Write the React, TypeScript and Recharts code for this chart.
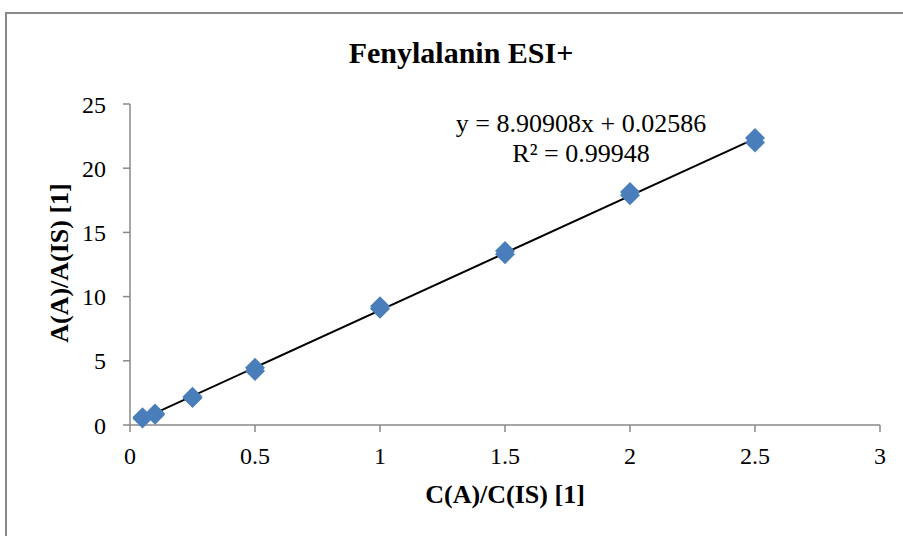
import React from 'react';
import {
  ScatterChart,
  Scatter,
  XAxis,
  YAxis,
  ReferenceLine,
} from 'recharts';

// concentration ratios (each standard measured twice)
const concentrations = [0.05, 0.05, 0.1, 0.1, 0.25, 0.25, 0.5, 0.5, 1, 1, 1.5, 1.5, 2, 2, 2.5, 2.5];
const areaRatios = [0.5, 0.6, 0.8, 0.9, 2.1, 2.2, 4.2, 4.45, 9.05, 9.25, 13.3, 13.55, 17.9, 18.15, 22.0, 22.35];

const xTicks = [0, 0.5, 1, 1.5, 2, 2.5, 3];
const yTicks = [0, 5, 10, 15, 20, 25];

// trendline as printed on the chart
const slope = 8.90908;
const intercept = 0.02586;
const rSquared = 0.99948;
const trendX = [0.05, 2.5];

const points = concentrations.map((c, i) => ({ x: c, y: areaRatios[i] }));

const FONT = '"Liberation Serif", "Times New Roman", serif';
const AXIS_GREY = '#898989';
const MARKER = '#4A7EBB';

const Diamond = (props: any) => {
  const { cx, cy } = props;
  const r = 10;
  return (
    <polygon
      points={`${cx},${cy - r} ${cx + r},${cy} ${cx},${cy + r} ${cx - r},${cy}`}
      fill={MARKER}
    />
  );
};

export default function App() {
  return (
    <div style={{ position: 'absolute', left: 0, top: 0, width: 903, height: 536, overflow: 'hidden', background: '#fff' }}>
      <div
        style={{
          position: 'absolute',
          left: 5,
          top: 12,
          width: 960,
          height: 600,
          border: `2px solid ${AXIS_GREY}`,
        }}
      />
      <div style={{ position: 'absolute', left: 0, top: 0 }}>
        <ScatterChart width={903} height={536} margin={{ top: 104, right: 23, bottom: 0, left: 0 }}>
          <XAxis
            type="number"
            dataKey="x"
            domain={[0, 3]}
            ticks={xTicks}
            height={111}
            axisLine={{ stroke: AXIS_GREY, strokeWidth: 1.5 }}
            tickLine={{ stroke: AXIS_GREY, strokeWidth: 1.5 }}
            tickSize={7}
            tickMargin={15}
            tick={{ fill: '#000', fontFamily: FONT, fontSize: 24 }}
            label={{
              value: 'C(A)/C(IS) [1]',
              position: 'insideBottom',
              offset: 33,
              style: { fill: '#000', fontFamily: FONT, fontSize: 26, fontWeight: 'bold' },
            }}
          />
          <YAxis
            type="number"
            dataKey="y"
            domain={[0, 25]}
            ticks={yTicks}
            width={130}
            axisLine={{ stroke: AXIS_GREY, strokeWidth: 1.5 }}
            tickLine={{ stroke: AXIS_GREY, strokeWidth: 1.5 }}
            tickSize={7}
            tickMargin={17}
            tick={{ fill: '#000', fontFamily: FONT, fontSize: 24 }}
            label={{
              value: 'A(A)/A(IS) [1]',
              content: () => (
                <text
                  x={68}
                  y={263}
                  transform="rotate(-90 68 263)"
                  textAnchor="middle"
                  fill="#000"
                  fontFamily={FONT}
                  fontSize={26}
                  fontWeight="bold"
                >
                  A(A)/A(IS) [1]
                </text>
              ),
            }}
          />
          <Scatter data={points} shape={Diamond} isAnimationActive={false} />
          <ReferenceLine
            segment={[
              { x: trendX[0], y: slope * trendX[0] + intercept },
              { x: trendX[1], y: slope * trendX[1] + intercept },
            ]}
            stroke="#000"
            strokeWidth={2}
            ifOverflow="visible"
          />
          <text x={461} y={63} textAnchor="middle" fontFamily={FONT} fontSize={30} fontWeight="bold" fill="#000">
            Fenylalanin ESI+
          </text>
          <text x={581} y={132} textAnchor="middle" fontFamily={FONT} fontSize={26} fill="#000">
            {`y = ${slope}x + ${intercept}`}
          </text>
          <text x={581} y={162} textAnchor="middle" fontFamily={FONT} fontSize={26} fill="#000">
            {`R² = ${rSquared}`}
          </text>
        </ScatterChart>
      </div>
    </div>
  );
}
